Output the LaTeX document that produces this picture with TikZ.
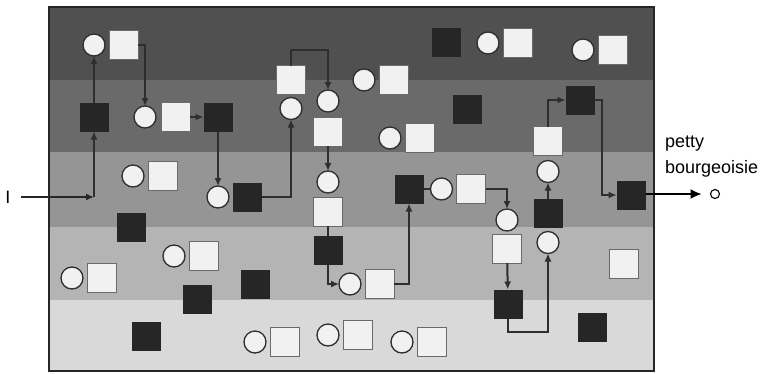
\documentclass[tikz,border=0pt]{standalone}
\usepackage{fontspec}
\setmainfont{Liberation Sans}
\usetikzlibrary{positioning,arrows.meta}

\definecolor{bandA}{HTML}{505050}
\definecolor{bandB}{HTML}{6A6A6A}
\definecolor{bandC}{HTML}{959595}
\definecolor{bandD}{HTML}{B4B4B4}
\definecolor{bandE}{HTML}{D9D9D9}
\definecolor{ink}{HTML}{262626}
\definecolor{wire}{HTML}{2E2E2E}
\definecolor{sqfill}{HTML}{F1F1F1}
\definecolor{sqedge}{HTML}{6A6A6A}

\begin{document}
\begin{tikzpicture}[
    x=1pt, y=-1pt,
    every node/.style={inner sep=0pt, outer sep=0pt},
    whitesq/.style={rectangle, draw=sqedge, fill=sqfill, line width=0.9pt, minimum size=29pt},
    blacksq/.style={rectangle, fill=ink, minimum size=29pt},
    person/.style={circle, draw=wire, fill=sqfill, line width=1.3pt, minimum size=22pt},
    caption/.style={font=\fontsize{18}{26}\selectfont, align=left},
    arrow/.style={-{Latex[length=8pt,width=7pt]}, line width=2pt, draw=wire},
    link/.style={line width=2pt, draw=wire},
    outarrow/.style={-{Latex[length=11pt,width=10pt]}, line width=1.3pt, draw=black},
]
\useasboundingbox (0,0) rectangle (763,373);

% Bands, darkest on top
\fill[bandA] (49,7) rectangle (654,80);
\fill[bandB] (49,80) rectangle (654,152);
\fill[bandC] (49,152) rectangle (654,227);
\fill[bandD] (49,227) rectangle (654,300);
\fill[bandE] (49,300) rectangle (654,371);
\draw[ink, line width=1.5pt] (49,7) rectangle (654,371);

% Top band
\node[person] (c1) at (94,45) {};
\node[whitesq, right=4pt of c1] (s1) {};
\node[blacksq] (k1) at (446,42) {};
\node[person] (c2) at (488,43) {};
\node[whitesq, right=4pt of c2] (s2) {};
\node[person] (c3) at (583,50) {};
\node[whitesq, right=4pt of c3] (s3) {};
\node[person] (c4) at (364,80) {};
\node[whitesq, right=4pt of c4] (s4) {};

% Second band
\node[blacksq] (b1) at (94,117) {};
\node[person] (c5) at (145,117) {};
\node[whitesq, right=5pt of c5] (s5) {};
\node[blacksq] (b2) at (218,117) {};
\node[whitesq] (s6) at (291,80) {};
\node[person, below=3pt of s6] (c6) {};
\node[person] (c7) at (328,101) {};
\node[whitesq, below=5pt of c7] (s7) {};
\node[blacksq] (k2) at (467,109) {};
\node[person] (c8) at (390,138) {};
\node[whitesq, right=4pt of c8] (s8) {};
\node[blacksq] (b3) at (580,100) {};
\node[whitesq] (s9) at (548,141) {};
\node[person, below=5pt of s9] (c9) {};

% Third band
\node[person] (c10) at (133,176) {};
\node[whitesq, right=4pt of c10] (s10) {};
\node[person] (c11) at (218,197) {};
\node[blacksq, right=4pt of c11] (b4) {};
\node[person] (c12) at (328,182) {};
\node[whitesq, below=4pt of c12] (s12) {};
\node[blacksq, below=10pt of s12] (b5) {};
\node[blacksq] (b6) at (409,189) {};
\node[person, right=7pt of b6] (c13) {};
\node[whitesq, right=4pt of c13] (s13) {};
\node[person] (c14) at (507,220) {};
\node[whitesq, below=3pt of c14] (s14) {};
\node[blacksq] (b7) at (548,213) {};
\node[person, below=4pt of b7] (c15) {};
\node[blacksq] (b8) at (631,195) {};
\node[blacksq] (k3) at (131,227) {};

% Fourth band
\node[person] (c16) at (174,256) {};
\node[whitesq, right=4pt of c16] (s16) {};
\node[person] (c17) at (72,278) {};
\node[whitesq, right=4pt of c17] (s17) {};
\node[blacksq] (k4) at (197,299) {};
\node[blacksq] (k5) at (255,284) {};
\node[person] (c18) at (350,284) {};
\node[whitesq, right=4pt of c18] (s18) {};
\node[blacksq] (b9) at (508,304) {};
\node[whitesq] (s19) at (624,264) {};

% Bottom band
\node[blacksq] (k6) at (146,336) {};
\node[person] (c20) at (255,342) {};
\node[whitesq, right=4pt of c20] (s20) {};
\node[person] (c21) at (328,335) {};
\node[whitesq, right=4pt of c21] (s21) {};
\node[person] (c22) at (402,342) {};
\node[whitesq, right=4pt of c22] (s22) {};
\node[blacksq] (k7) at (592,327) {};

% Outside labels
\node[caption] (lblI) at (8,197) {I};
\node[caption, anchor=north west] (cls) at (665,136) {petty\\bourgeoisie};
\node[circle, draw=black, fill=white, line width=1.1pt, minimum size=9pt] (dest) at (715,194) {};
\coordinate (entry) at (b1 |- lblI);

% Arrows
\draw[arrow, draw=ink, shorten <=10pt] (lblI) -- (entry);
\draw[arrow] (entry) -- (b1);
\draw[arrow] (b1) -- (c1);
\draw[arrow] (s1.east) -| (c5.north);
\draw[arrow] (s5) -- (b2);
\draw[arrow] (b2) -- (c11);
\draw[arrow] (b4.east) -| (c6.south);
\draw[arrow] (s6.north) -- ++(0,-16) -| (c7.north);
\draw[arrow] (s7) -- (c12);
\draw[link] (s12) -- (b5);
\draw[arrow] (b5.south) |- (c18.west);
\draw[arrow] (s18.east) -| (b6.south);
\draw[link] (b6) -- (c13);
\draw[arrow] (s13.east) -| (c14.north);
\draw[arrow] (s14) -- (b9);
\draw[arrow] (b9.south) -- ++(0,13) -| (c15.south);
\draw[arrow] (b7) -- (c9);
\draw[arrow] (s9.north) |- (b3.west);
\draw[arrow] (b3.east) -- ++(7,0) |- (b8.west);
\draw[outarrow, shorten >=9pt] (b8.east |- dest) -- (dest);

\end{tikzpicture}
\end{document}
